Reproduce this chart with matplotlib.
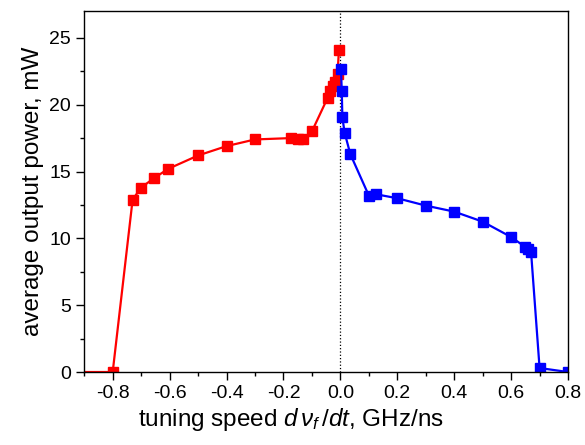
import matplotlib.pyplot as plt
from matplotlib.ticker import MultipleLocator

plt.rcParams['font.family'] = ['Liberation Sans', 'DejaVu Sans']
plt.rcParams['mathtext.fontset'] = 'custom'
plt.rcParams['mathtext.rm'] = 'Liberation Sans'
plt.rcParams['mathtext.it'] = 'Liberation Sans:italic'
plt.rcParams['axes.unicode_minus'] = False

# --- negative tuning speed (red) ---
neg_speed = [-0.95, -0.8, -0.73, -0.70, -0.655, -0.605, -0.5, -0.4, -0.3,
             -0.175, -0.15, -0.13, -0.10, -0.045, -0.035, -0.025, -0.02,
             -0.01, -0.005]
neg_power = [0.0, 0.0, 12.9, 13.8, 14.5, 15.2, 16.2, 16.9, 17.4,
             17.5, 17.45, 17.45, 18.0, 20.5, 21.0, 21.4, 21.7,
             22.3, 24.1]

# --- positive tuning speed (blue) ---
pos_speed = [0.002, 0.005, 0.007, 0.015, 0.035, 0.10, 0.125, 0.2, 0.3,
             0.4, 0.5, 0.6, 0.65, 0.66, 0.67, 0.70, 0.80]
pos_power = [22.7, 21.0, 19.05, 17.9, 16.3, 13.2, 13.3, 13.0, 12.45,
             12.0, 11.25, 10.1, 9.35, 9.2, 9.0, 0.3, 0.0]

fig = plt.figure(figsize=(5.85, 4.45), dpi=100)
ax = fig.add_axes([0.144, 0.164, 0.827, 0.811])

ax.axvline(0, color='black', linestyle=':', linewidth=0.9)
ax.plot(neg_speed, neg_power, '-s', color='#ff0000', lw=1.6, ms=6.5)
ax.plot(pos_speed, pos_power, '-s', color='#0000ff', lw=1.6, ms=6.5)

ax.set_xlim(-0.9, 0.8)
ax.set_ylim(0, 27)
ax.xaxis.set_minor_locator(MultipleLocator(0.1))
ax.yaxis.set_major_locator(MultipleLocator(5))
ax.yaxis.set_minor_locator(MultipleLocator(2.5))
ax.set_xticks([-0.8, -0.6, -0.4, -0.2, 0.0, 0.2, 0.4, 0.6, 0.8])
ax.tick_params(which='major', direction='out', length=6, width=1, labelsize=14)
ax.tick_params(which='minor', direction='out', length=3, width=1)
for s in ax.spines.values():
    s.set_linewidth(1.0)

ax.set_xlabel(r"tuning speed $d\,\nu_f\,/dt$, GHz/ns", fontsize=17.5, labelpad=4)
ax.xaxis.set_label_coords(0.428, -0.095)
ax.set_ylabel("average output power, mW", fontsize=17.5, labelpad=4)

fig.savefig("out.png", dpi=100)
